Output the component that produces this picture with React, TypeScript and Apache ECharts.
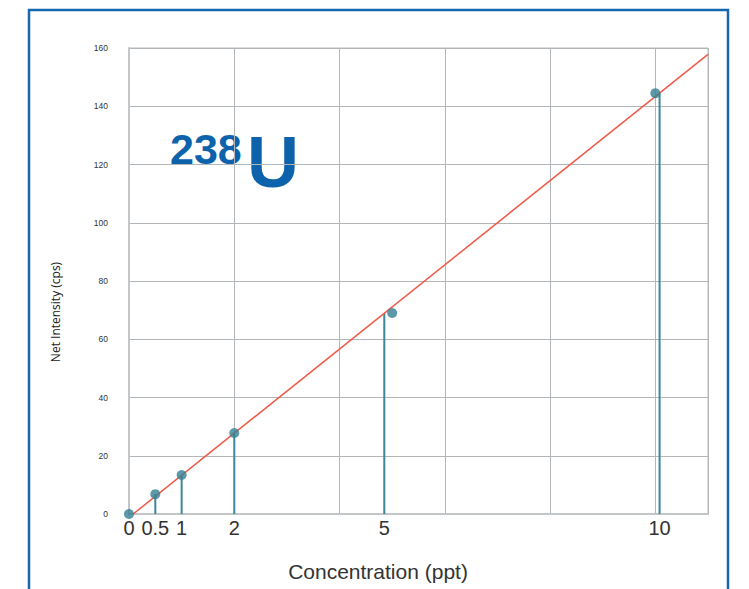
import React, { useEffect, useRef } from "react";
import * as echarts from "echarts";

// Calibration data (238U)
const concentrations = [0, 0.5, 1, 2, 5, 10];
const intensities = [0, 6.8, 13.4, 27.8, 69, 144.5];
// Stem (drop line) positions as drawn in the figure
const stemPositions = [0, 0.5, 1, 2, 4.85, 10.08];
const tickLabels = ["0", "0.5", "1", "2", "5", "10"];
// Regression line end points
const fitX = [0.08, 11];
const fitY = [0, 157.8];

const FONT = "'Liberation Sans', Arial, sans-serif";

export default function App() {
  const ref = useRef<HTMLDivElement>(null);
  useEffect(() => {
    if (!ref.current) return;
    const chart = echarts.init(ref.current, undefined, { renderer: "svg" });
    const stems = stemPositions.map((x, i) => [x, intensities[i]]);
    const points = concentrations.map((x, i) => [x, intensities[i]]);
    const fit = fitX.map((x, i) => [x, fitY[i]]);
    chart.setOption({
      animation: false,
      backgroundColor: "#ffffff",
      grid: {
        left: 129,
        top: 48,
        right: 41,
        bottom: 75,
        show: true,
        borderColor: "#b8bbbe",
        borderWidth: 1,
      },
      xAxis: {
        type: "value",
        min: 0,
        max: 11,
        interval: 2,
        axisLine: { show: true, lineStyle: { color: "#c3c6c8", width: 2 } },
        axisTick: { show: false },
        splitLine: { show: true, lineStyle: { color: "#b3b6b9", width: 1 } },
        axisLabel: {
          customValues: stemPositions,
          formatter: (v: number) => {
            const i = stemPositions.findIndex((p) => Math.abs(p - v) < 1e-6);
            return i >= 0 ? tickLabels[i] : "";
          },
          fontSize: 20,
          color: "#333333",
          fontFamily: FONT,
          margin: 4,
        },
      },
      yAxis: {
        type: "value",
        min: 0,
        max: 160,
        interval: 20,
        axisLine: { show: true, lineStyle: { color: "#c3c6c8", width: 2 } },
        axisTick: { show: false },
        splitLine: { show: true, lineStyle: { color: "#b3b6b9", width: 1 } },
        axisLabel: {
          fontSize: 8.5,
          color: "#333333",
          fontFamily: FONT,
          margin: 21,
        },
      },
      series: [
        {
          type: "custom",
          data: stems,
          z: 3,
          renderItem: (params: any, api: any) => {
            const p0 = api.coord([api.value(0), 0]);
            const p1 = api.coord([api.value(0), api.value(1)]);
            return {
              type: "line",
              shape: { x1: p0[0], y1: p0[1], x2: p1[0], y2: p1[1] },
              style: { stroke: "#3a8799", lineWidth: 2 },
            };
          },
        },
        {
          type: "line",
          data: fit,
          showSymbol: false,
          symbol: "none",
          z: 4,
          lineStyle: { color: "#ef5a48", width: 1.5 },
        },
        {
          type: "scatter",
          data: points,
          symbol: "circle",
          symbolSize: 10,
          z: 5,
          itemStyle: { color: "#337f92" },
        },
      ],
      graphic: [
        {
          type: "rect",
          shape: { x: 29, y: 10, width: 699, height: 620 },
          style: { fill: "none", stroke: "#1767ae", lineWidth: 2.5 },
          z: 10,
        },
        {
          type: "text",
          x: 170,
          y: 127,
          style: {
            text: "238",
            fontSize: 43,
            fontWeight: "bold",
            fontFamily: FONT,
            fill: "#0c63ab",
            textAlign: "left",
            textVerticalAlign: "top",
          },
        },
        {
          type: "text",
          x: 247,
          y: 126,
          style: {
            text: "U",
            fontSize: 72,
            fontWeight: "bold",
            fontFamily: FONT,
            fill: "#0c63ab",
            textAlign: "left",
            textVerticalAlign: "top",
          },
        },
        {
          type: "text",
          x: 378,
          y: 571,
          style: {
            text: "Concentration (ppt)",
            fontSize: 21,
            fontFamily: FONT,
            fill: "#333333",
            textAlign: "center",
            textVerticalAlign: "middle",
          },
        },
        {
          type: "text",
          x: 55,
          y: 312,
          rotation: Math.PI / 2,
          style: {
            text: "Net Intensity (cps)",
            fontSize: 12,
            fontFamily: "'Open Sans', sans-serif",
            fill: "#222222",
            textAlign: "center",
            textVerticalAlign: "middle",
          },
        },
      ],
    });
    return () => chart.dispose();
  }, []);
  return (
    <div
      ref={ref}
      style={{ position: "absolute", left: 0, top: 0, width: 749, height: 589 }}
    />
  );
}
